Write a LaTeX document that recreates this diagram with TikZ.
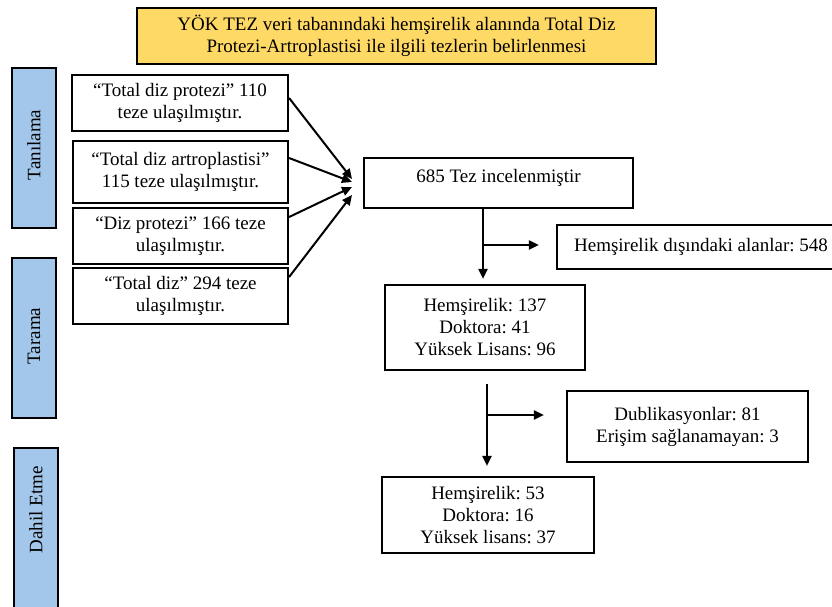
\documentclass[tikz,border=0pt]{standalone}
\usepackage{fontspec}
\setmainfont{Liberation Serif}
\usepackage{tikz}
\usetikzlibrary{arrows.meta}
\usetikzlibrary{positioning}
\definecolor{titleyellow}{RGB}{255,217,102}
\definecolor{stageblue}{RGB}{163,199,235}
\frenchspacing

\begin{document}
\begin{tikzpicture}[x=1pt,y=-1pt,
  box/.style={draw,line width=2.2pt,align=center,inner sep=0pt,font=\fontsize{19}{22}\selectfont},
  stagebox/.style={draw,line width=2.2pt,fill=stageblue,minimum width=44pt,minimum height=160pt,inner sep=0pt},
  stagetext/.style={rotate=90,font=\fontsize{19}{22}\selectfont},
  arr/.style={line width=2pt,-{Triangle[length=10pt,width=9pt]}}]
  \useasboundingbox (0,0) rectangle (832,606);
  \node[box,fill=titleyellow,minimum width=519pt,minimum height=56pt] (title) at (396.5,36) {YÖK TEZ veri tabanındaki hemşirelik alanında Total Diz\\Protezi-Artroplastisi ile ilgili tezlerin belirlenmesi};
  \node[stagebox] (tani) at (34,148) {};
  \node[stagetext] at (34,145) {Tanılama};
  \node[stagebox] (tarama) at (34,338) {};
  \node[stagetext] at (34,336) {Tarama};
  \node[stagebox,minimum height=162pt] (dahil) at (36,529) {};
  \node[stagetext] at (36,510) {Dahil Etme};
  \node[box,minimum width=216pt,minimum height=56pt] (b1) at (180,103) {“Total diz protezi” 110\\teze ulaşılmıştır.};
  \node[box,minimum width=215pt,minimum height=62pt] (b2) at (180.5,172) {“Total diz artroplastisi”\\115 teze ulaşılmıştır.};
  \node[box,minimum width=215pt,minimum height=56pt] (b3) at (180.5,236) {“Diz protezi” 166 teze\\ulaşılmıştır.};
  \node[box,minimum width=215pt,minimum height=56pt] (b4) at (180.5,296) {“Total diz” 294 teze\\ulaşılmıştır.};
  \node[box,minimum width=269pt,minimum height=50pt,text height=13pt,text depth=15pt] (inc) at (498.5,183) {685 Tez incelenmiştir};
  \node[box,minimum width=288pt,minimum height=44pt] (out) at (701,247) {Hemşirelik dışındaki alanlar: 548};
  \node[box,minimum width=200pt,minimum height=85pt] (n137) at (485,327.5) {Hemşirelik: 137\\Doktora: 41\\Yüksek Lisans: 96};
  \node[box,minimum width=241pt,minimum height=71pt] (dub) at (687.5,426.5) {Dublikasyonlar: 81\\Erişim sağlanamayan: 3};
  \node[box,minimum width=212pt,minimum height=76pt] (n53) at (488,515) {Hemşirelik: 53\\Doktora: 16\\Yüksek lisans: 37};
  \coordinate (m1) at (352,179);
  \coordinate (m2) at (352,182);
  \coordinate (m3) at (352,187);
  \coordinate (m4) at (352,195);
  \draw[arr] ([yshift=5pt]b1.east) -- (m1);
  \draw[arr] ([yshift=14pt]b2.east) -- (m2);
  \draw[arr] ([yshift=19pt]b3.east) -- (m3);
  \draw[arr] ([yshift=19pt]b4.east) -- (m4);
  \coordinate (j1) at (483,245);
  \coordinate (j2) at (487,415);
  \draw[arr,shorten >=5pt] ([xshift=-15.5pt]inc.south) -- ([xshift=-2pt]n137.north);
  \draw[arr,shorten >=17pt] (j1) -- (j1 -| out.west);
  \draw[arr,shorten >=10pt] ([xshift=2pt,yshift=-13pt]n137.south) -- ([xshift=-1pt]n53.north);
  \draw[arr,shorten >=22pt] (j2) -- (j2 -| dub.west);
\end{tikzpicture}
\end{document}
